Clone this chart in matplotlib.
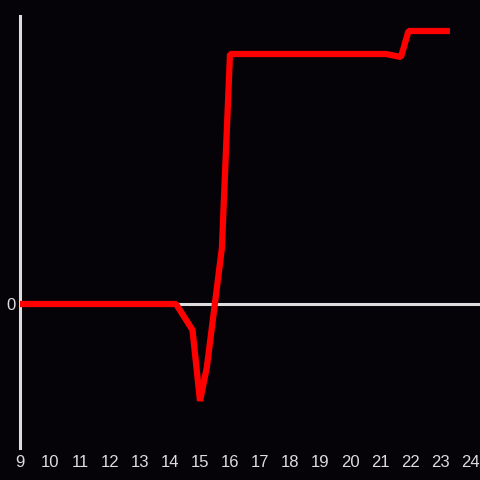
import matplotlib
matplotlib.use('Agg')
import matplotlib.pyplot as plt

# values
hours = [9, 14.2, 14.75, 15.0, 15.23, 15.73, 16.0, 21.2, 21.7, 21.95, 23.33]
values = [0, 0, -10.4, -38.8, -25.2, 22.4, 100, 100, 98.8, 109.2, 109.2]
xticks = list(range(9, 25))

bg = '#050308'
fg = '#dddddd'

plt.rcParams['font.family'] = ['Liberation Sans', 'DejaVu Sans']

fig = plt.figure(figsize=(4.8, 4.8), dpi=100, facecolor=bg)
ax = fig.add_axes([20 / 480, 32 / 480, 460 / 480, 432 / 480], facecolor=bg)

ax.axhline(0, color=fg, linewidth=2.2, zorder=1)
ax.plot(hours, values, color='#ff0000', linewidth=4.5,
        solid_joinstyle='bevel', solid_capstyle='butt', zorder=3)

ax.set_xlim(9, 24 + 10 / 30)
ax.set_ylim(-57.6, 115.2)

for side in ('top', 'right', 'bottom'):
    ax.spines[side].set_visible(False)
ax.spines['left'].set_color(fg)
ax.spines['left'].set_linewidth(2.2)

ax.set_xticks(xticks)
ax.set_xticklabels([str(t) for t in xticks])
ax.set_yticks([0])
ax.set_yticklabels(['0'])
ax.tick_params(axis='both', length=0, colors=fg, labelsize=12)
ax.tick_params(axis='x', pad=5)
ax.tick_params(axis='y', pad=3)

fig.savefig('out.png', dpi=100, facecolor=bg)
